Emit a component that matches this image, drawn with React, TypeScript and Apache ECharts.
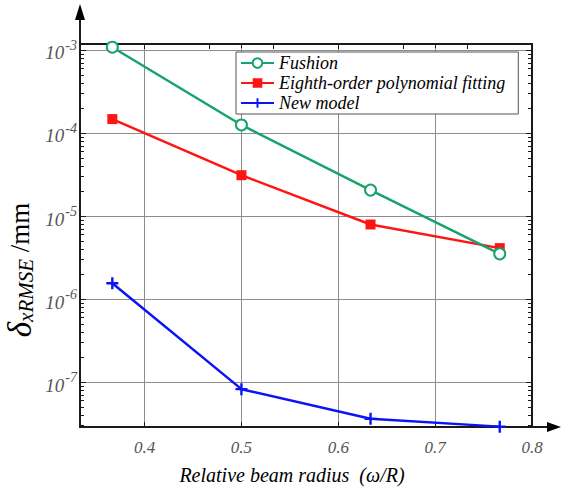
import React, { useEffect, useRef } from "react";
import * as echarts from "echarts";

// ---- data ----
const xValues = [0.3667, 0.5, 0.6333, 0.7667];
const fushion = [1.08e-3, 1.25e-4, 2.05e-5, 3.5e-6];
const eighthOrder = [1.47e-4, 3.1e-5, 7.9e-6, 4.1e-6];
const newModel = [1.55e-6, 8.2e-8, 3.6e-8, 2.9e-8];
const seriesNames = ["Fushion", "Eighth-order polynomial fitting", "New model"];

const X_MIN = 1 / 3;
const X_MAX = 0.8;
const Y_MIN = 2.87e-8;
const Y_MAX = 1.181e-3;

const SERIF = "Liberation Serif";

// minor log tick positions (axis decoration)
const minorTicks: number[] = [];
for (let e = -8; e <= -3; e++) {
  for (let m = 2; m <= 9; m++) {
    const v = m * Math.pow(10, e);
    if (v > Y_MIN && v < Y_MAX) minorTicks.push(v);
  }
}

const pairs = (ys: number[]) => xValues.map((x, i) => [x, ys[i]]);

export default function App() {
  const ref = useRef<HTMLDivElement>(null);
  useEffect(() => {
    document.body.style.margin = "0";
    if (!ref.current) return;
    const chart = echarts.init(ref.current, undefined, { renderer: "svg" });
    const axisColor = "#1a1a1a";
    const option: any = {
      animation: false,
      backgroundColor: "#fff",
      grid: { left: 80, right: 29, top: 44, bottom: 60 },
      legend: {
        data: seriesNames,
        orient: "vertical",
        left: 236,
        top: 52,
        itemWidth: 33,
        itemHeight: 12,
        itemGap: 2,
        padding: [2, 13, 2, 4],
        borderColor: "#555",
        borderWidth: 1,
        backgroundColor: "#fff",
        selectedMode: false,
        textStyle: {
          fontFamily: SERIF,
          fontStyle: "italic",
          fontSize: 18,
          color: "#000",
        },
      },
      xAxis: [
        {
          type: "value",
          position: "bottom",
          min: X_MIN,
          max: X_MAX,
          splitNumber: 5,
          axisLine: { show: true, lineStyle: { color: axisColor, width: 2 } },
          axisTick: { show: true, inside: true, length: 5, lineStyle: { color: axisColor, width: 1 } },
          axisLabel: {
            margin: 12,
            fontFamily: SERIF,
            fontStyle: "italic",
            fontSize: 17,
            color: "#555",
            showMinLabel: false,
            formatter: (v: number) => {
              const k = Math.round(v * 10);
              return Math.abs(v * 10 - k) < 1e-6 ? (k / 10).toFixed(1) : "";
            },
          },
          splitLine: { show: true, lineStyle: { color: "#8c8c8c", width: 1 } },
        },
        {
          type: "value",
          position: "top",
          min: X_MIN,
          max: X_MAX,
          interval: 1 / 15,
          axisLine: { show: true, lineStyle: { color: axisColor, width: 2 } },
          axisTick: { show: true, inside: true, length: 5, lineStyle: { color: axisColor, width: 1 } },
          axisLabel: { show: false },
          splitLine: { show: false },
        },
        {
          type: "value",
          position: "top",
          min: X_MIN,
          max: X_MAX,
          splitNumber: 5,
          axisLine: { show: false },
          axisTick: { show: true, inside: true, length: 4, lineStyle: { color: axisColor, width: 1 } },
          axisLabel: { show: false },
          splitLine: { show: false },
        },
      ],
      yAxis: [
        {
          type: "log",
          logBase: 10,
          position: "left",
          min: Y_MIN,
          max: Y_MAX,
          axisLine: { show: true, lineStyle: { color: axisColor, width: 2 } },
          axisTick: { show: true, inside: true, length: 6, lineStyle: { color: axisColor, width: 1 } },
          splitLine: { show: true, lineStyle: { color: "#8c8c8c", width: 1 } },
          axisLabel: {
            margin: 3,
            showMinLabel: false,
            showMaxLabel: false,
            formatter: (v: number) => {
              const l = Math.log10(v);
              const e = Math.round(l);
              if (Math.abs(l - e) > 1e-6) return "";
              return "{b|10}{s|" + e + "}";
            },
            rich: {
              b: {
                fontFamily: SERIF,
                fontStyle: "italic",
                fontSize: 19,
                color: "#555",
                padding: [6, 0, 0, 0],
              },
              s: {
                fontFamily: SERIF,
                fontStyle: "italic",
                fontSize: 14,
                color: "#555",
                verticalAlign: "top",
                padding: [1, 0, 0, 1],
              },
            },
          },
        },
        {
          type: "log",
          logBase: 10,
          position: "right",
          min: Y_MIN,
          max: Y_MAX,
          axisLine: { show: true, lineStyle: { color: axisColor, width: 2 } },
          axisTick: { show: true, inside: true, length: 6, lineStyle: { color: axisColor, width: 1 } },
          splitLine: { show: false },
          axisLabel: { show: false },
        },
      ],
      graphic: [
        {
          type: "line",
          shape: { x1: 80, y1: 45, x2: 80, y2: 16 },
          style: { stroke: axisColor, lineWidth: 2 },
        },
        {
          type: "polygon",
          shape: { points: [[80, 4], [75, 20], [85, 20]] },
          style: { fill: "#000" },
        },
        {
          type: "line",
          shape: { x1: 531, y1: 427, x2: 552, y2: 427 },
          style: { stroke: axisColor, lineWidth: 2 },
        },
        {
          type: "polygon",
          shape: { points: [[561, 427], [547, 422], [547, 432]] },
          style: { fill: "#000" },
        },
        {
          type: "text",
          x: 292,
          y: 475,
          style: {
            text: "Relative beam radius  (ω/R)",
            fontFamily: SERIF,
            fontStyle: "italic",
            fontSize: 20,
            fill: "#000",
            align: "center",
            verticalAlign: "middle",
          },
        },
        {
          type: "text",
          x: 20,
          y: 270,
          rotation: Math.PI / 2,
          style: {
            text: "{d|δ}{s|xRMSE}{n| /mm}",
            align: "center",
            verticalAlign: "middle",
            rich: {
              d: { fontFamily: SERIF, fontStyle: "italic", fontSize: 33, fill: "#000", lineHeight: 32 },
              s: {
                fontFamily: SERIF,
                fontStyle: "italic",
                fontSize: 21,
                fill: "#000",
                lineHeight: 32,
                verticalAlign: "bottom",
                padding: [17, 0, 0, 0],
              },
              n: { fontFamily: SERIF, fontSize: 27, fill: "#000", lineHeight: 32 },
            },
          },
        },
      ],
      series: [
        {
          name: seriesNames[0],
          type: "line",
          data: pairs(fushion),
          symbol: "emptyCircle",
          symbolSize: 11,
          lineStyle: { color: "#17A36B", width: 2.5 },
          itemStyle: { color: "#17A36B", borderWidth: 2.5 },
          clip: false,
          z: 4,
        },
        {
          name: seriesNames[1],
          type: "line",
          data: pairs(eighthOrder),
          symbol: "rect",
          symbolSize: 10,
          lineStyle: { color: "#FF1414", width: 2.5 },
          itemStyle: { color: "#FF1414" },
          clip: false,
          z: 3,
        },
        {
          name: seriesNames[2],
          type: "line",
          data: pairs(newModel),
          symbol: "path://M4,0 H6 V4 H10 V6 H6 V10 H4 V6 H0 V4 H4 Z",
          symbolSize: 12,
          lineStyle: { color: "#0A14F5", width: 2.5 },
          itemStyle: { color: "#0A14F5" },
          clip: false,
          z: 3,
        },
        {
          type: "custom",
          silent: true,
          clip: false,
          z: 2,
          data: minorTicks.map((v) => [X_MIN, v]),
          renderItem: (params: any, api: any) => {
            const p = api.coord([X_MIN, api.value(1)]);
            const cs = params.coordSys;
            const y = Math.round(p[1]) + 0.5;
            return {
              type: "group",
              children: [
                {
                  type: "line",
                  shape: { x1: cs.x, y1: y, x2: cs.x + 4, y2: y },
                  style: { stroke: axisColor, lineWidth: 1 },
                },
                {
                  type: "line",
                  shape: { x1: cs.x + cs.width - 4, y1: y, x2: cs.x + cs.width, y2: y },
                  style: { stroke: axisColor, lineWidth: 1 },
                },
              ],
            };
          },
        },
      ],
    };
    chart.setOption(option);
    return () => chart.dispose();
  }, []);
  return <div ref={ref} style={{ width: 561, height: 487 }} />;
}
